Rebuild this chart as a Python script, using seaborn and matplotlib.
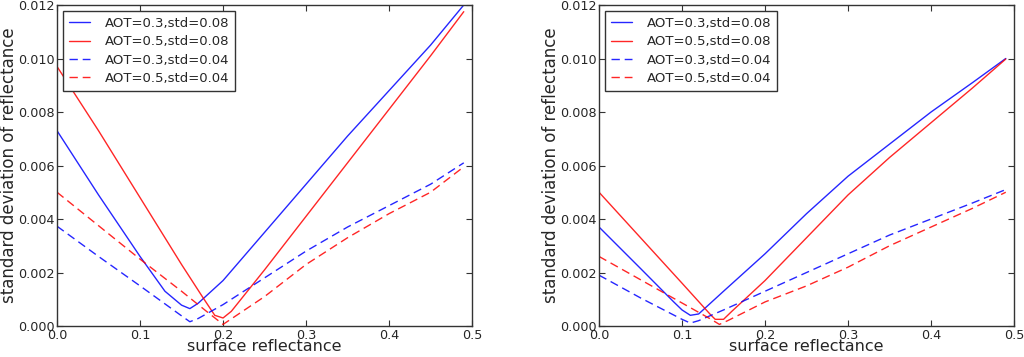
import numpy as np
import pandas as pd
import seaborn as sns
import matplotlib
matplotlib.use("Agg")
import matplotlib.pyplot as plt
from matplotlib.ticker import FormatStrFormatter

# Series labels
labels = ["AOT=0.3,std=0.08", "AOT=0.5,std=0.08", "AOT=0.3,std=0.04", "AOT=0.5,std=0.04"]

# Left panel values (surface reflectance, standard deviation)
left_x_blue08 = [0, 0.05, 0.1, 0.13, 0.15, 0.16, 0.17, 0.2, 0.25, 0.3, 0.35, 0.4, 0.45, 0.49]
left_y_blue08 = [0.0073, 0.0049, 0.0026, 0.0013, 0.00078, 0.00065, 0.00085, 0.0017, 0.0035, 0.0053, 0.0071, 0.0088, 0.0105, 0.0120]
left_x_red08 = [0, 0.05, 0.1, 0.15, 0.175, 0.19, 0.2, 0.21, 0.25, 0.3, 0.35, 0.4, 0.45, 0.49]
left_y_red08 = [0.0097, 0.0073, 0.0048, 0.0023, 0.0011, 0.0004, 0.0003, 0.00055, 0.0021, 0.0041, 0.0061, 0.0081, 0.0101, 0.01175]
left_x_blue04 = [0, 0.05, 0.1, 0.15, 0.16, 0.17, 0.2, 0.25, 0.3, 0.35, 0.4, 0.45, 0.49]
left_y_blue04 = [0.00373, 0.0026, 0.0015, 0.00038, 0.00016, 0.00028, 0.0008, 0.0018, 0.0028, 0.0037, 0.0045, 0.0053, 0.0061]
left_x_red04 = [0, 0.05, 0.1, 0.15, 0.18, 0.2, 0.25, 0.3, 0.35, 0.4, 0.45, 0.49]
left_y_red04 = [0.005, 0.00375, 0.0025, 0.0013, 0.00055, 0.00006, 0.0011, 0.0023, 0.0033, 0.0042, 0.0050, 0.00595]

# Right panel values
right_x_blue08 = [0, 0.05, 0.09, 0.1, 0.11, 0.12, 0.15, 0.2, 0.25, 0.3, 0.35, 0.4, 0.45, 0.49]
right_y_blue08 = [0.0037, 0.00215, 0.0009, 0.0006, 0.0004, 0.00045, 0.0013, 0.0027, 0.0042, 0.0056, 0.0068, 0.0080, 0.0091, 0.0100]
right_x_red08 = [0, 0.05, 0.1, 0.135, 0.14, 0.15, 0.16, 0.2, 0.25, 0.3, 0.35, 0.4, 0.45, 0.49]
right_y_red08 = [0.005, 0.0033, 0.0016, 0.0004, 0.00025, 0.00025, 0.00055, 0.0017, 0.0033, 0.0049, 0.0063, 0.0076, 0.0089, 0.00998]
right_x_blue04 = [0, 0.05, 0.1, 0.11, 0.12, 0.15, 0.2, 0.25, 0.3, 0.35, 0.4, 0.45, 0.49]
right_y_blue04 = [0.0019, 0.00105, 0.00025, 0.00011, 0.0002, 0.0006, 0.0013, 0.0020, 0.0027, 0.0034, 0.0040, 0.0046, 0.0051]
right_x_red04 = [0, 0.05, 0.1, 0.135, 0.145, 0.155, 0.2, 0.25, 0.3, 0.35, 0.4, 0.45, 0.49]
right_y_red04 = [0.0026, 0.00173, 0.00086, 0.00025, 0.00006, 0.0002, 0.0009, 0.0015, 0.0022, 0.003, 0.0037, 0.0044, 0.005]

x_ticks = [0.0, 0.1, 0.2, 0.3, 0.4, 0.5]
y_ticks = [0.000, 0.002, 0.004, 0.006, 0.008, 0.010, 0.012]

sns.set_style("ticks")
plt.rcParams["font.family"] = ["DejaVu Sans"]

palette = {labels[0]: "#0000ff", labels[1]: "#ff0000", labels[2]: "#0000ff", labels[3]: "#ff0000"}
dashes = {labels[0]: "", labels[1]: "", labels[2]: (6, 3.5), labels[3]: (6, 3.5)}


def make_frame(xs, ys):
    parts = []
    for lab, x, y in zip(labels, xs, ys):
        parts.append(pd.DataFrame({"x": x, "y": y, "series": lab}))
    return pd.concat(parts, ignore_index=True)


left_df = make_frame([left_x_blue08, left_x_red08, left_x_blue04, left_x_red04],
                     [left_y_blue08, left_y_red08, left_y_blue04, left_y_red04])
right_df = make_frame([right_x_blue08, right_x_red08, right_x_blue04, right_x_red04],
                      [right_y_blue08, right_y_red08, right_y_blue04, right_y_red04])

fig = plt.figure(figsize=(10.24, 3.57), dpi=100)
ax1 = fig.add_axes([0.0557, 0.0868, 0.4053, 0.8992])
ax2 = fig.add_axes([0.585, 0.0868, 0.4053, 0.8992])

for ax, df in [(ax1, left_df), (ax2, right_df)]:
    sns.lineplot(data=df, x="x", y="y", hue="series", style="series",
                 palette=palette, dashes=dashes, hue_order=labels, style_order=labels,
                 sort=False, estimator=None, linewidth=1, alpha=0.85, ax=ax)
    ax.set_xlim(0, 0.5)
    ax.set_ylim(0, 0.012)
    ax.set_xticks(x_ticks)
    ax.set_yticks(y_ticks)
    ax.xaxis.set_major_formatter(FormatStrFormatter("%.1f"))
    ax.yaxis.set_major_formatter(FormatStrFormatter("%.3f"))
    ax.tick_params(direction="in", top=True, right=True, length=4, width=0.8,
                   labelsize=9.2, color="#333333", pad=2)
    for sp in ax.spines.values():
        sp.set_visible(True)
        sp.set_color("#333333")
        sp.set_linewidth(1)
    ax.set_xlabel("surface reflectance", fontsize=11.5)
    ax.set_ylabel("standard deviation of reflectance", fontsize=12)
    ax.xaxis.set_label_coords(0.5, -0.041)
    ax.yaxis.set_label_coords(-0.094, 0.5)
    leg = ax.legend(loc="upper left", bbox_to_anchor=(0.0145, 0.981), borderaxespad=0,
                    fontsize=9.5, frameon=True, fancybox=False, framealpha=1,
                    edgecolor="#333333", handlelength=1.6, labelspacing=0.4,
                    borderpad=0.45, handletextpad=1.1)
    leg.get_frame().set_linewidth(1)

fig.savefig("out.png", dpi=100)
